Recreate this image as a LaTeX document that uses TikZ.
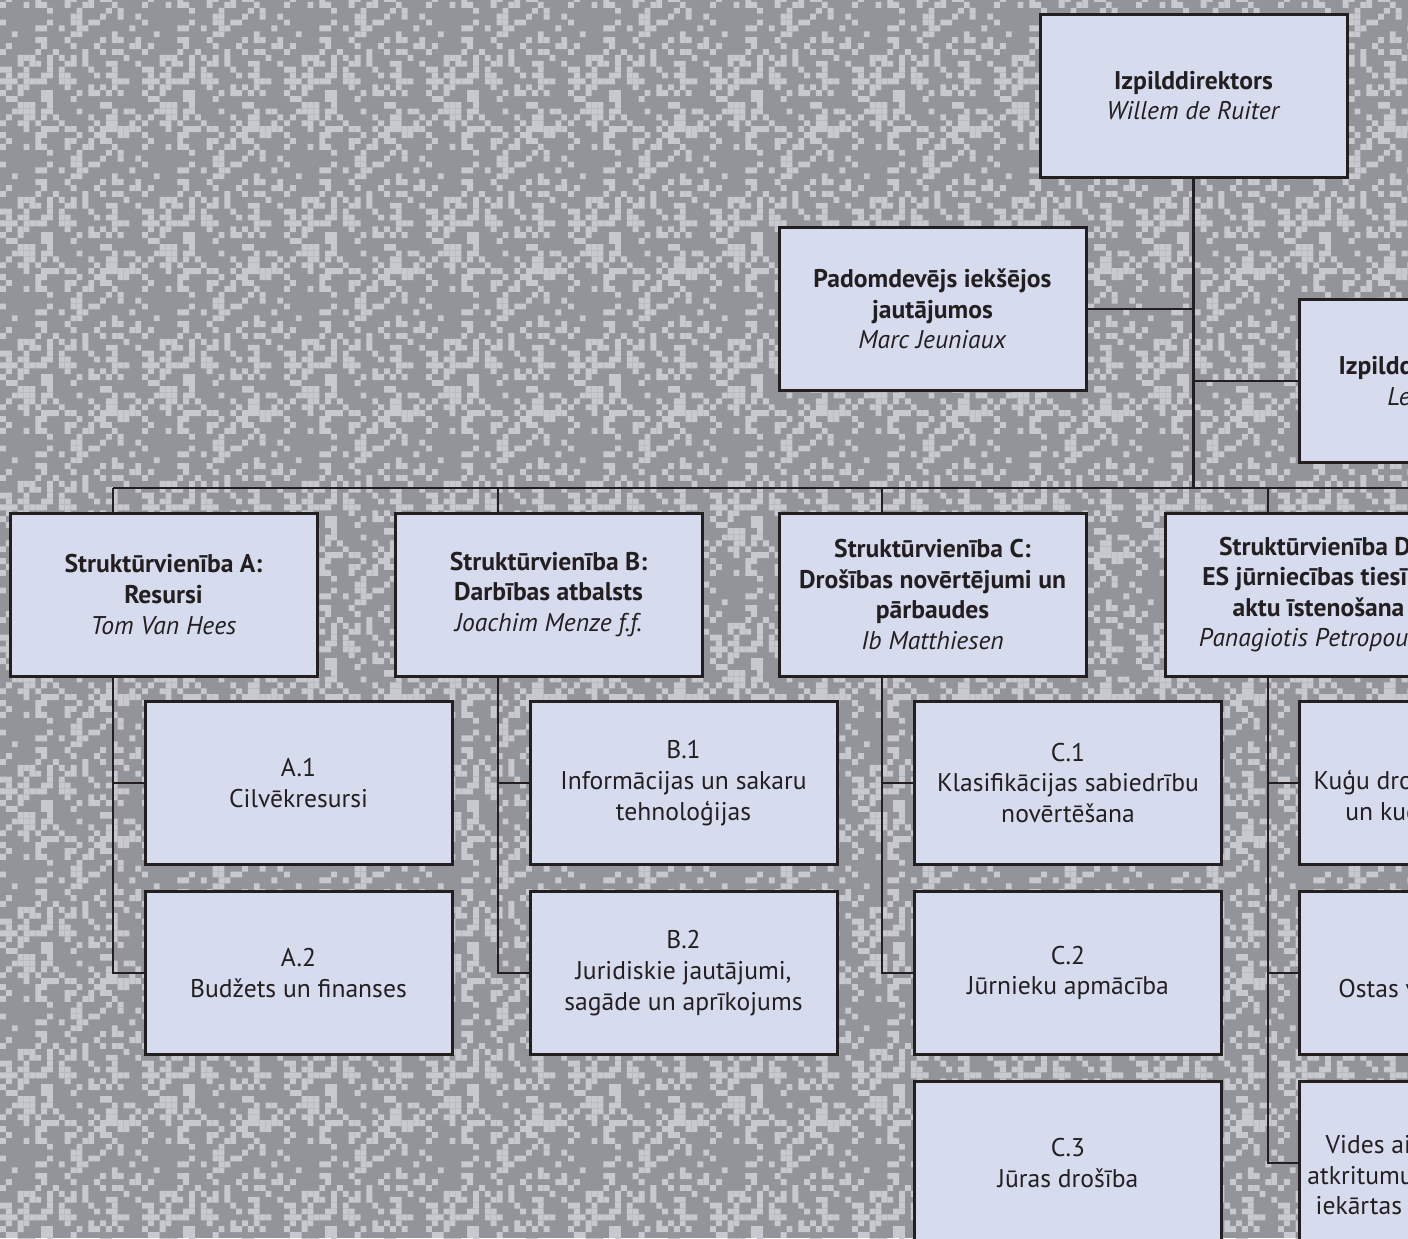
\documentclass[tikz,border=0pt]{standalone}
\usepackage{fontspec}
\setmainfont{PT Sans}
\usetikzlibrary{patterns}
\definecolor{bgdark}{RGB}{147,148,153}
\definecolor{bglight}{RGB}{200,201,206}
\definecolor{boxfill}{RGB}{214,219,238}
\definecolor{ink}{RGB}{35,31,32}
\newcommand\pxl[2]{\pgfpathrectangle{\pgfpoint{#1*2.95pt}{#2*2.95pt}}{\pgfpoint{2.95pt}{2.95pt}}}
\pgfmathsetseed{4711}
\pgfdeclarepatternformonly{pix}{\pgfpointorigin}{\pgfpoint{70.8pt}{70.8pt}}{\pgfpoint{70.8pt}{70.8pt}}{%
  \foreach \i in {0,...,23}{%
    \foreach \j in {0,...,23}{%
      \pgfmathparse{rnd<0.34 ? 1 : 0}%
      \ifdim\pgfmathresult pt>0.5pt \pxl{\i}{\j}\pgfusepath{fill}\fi
    }%
  }%
}
\tikzset{
  box/.style={draw=ink, line width=1.5pt, fill=boxfill, minimum width=153.5pt,
    minimum height=81.5pt, inner sep=0pt, align=center, text=ink,
    font=\fontsize{12.8}{15.3}\selectfont},
  conn/.style={draw=ink, line width=1.2pt}
}
\begin{document}
\begin{tikzpicture}[x=0.5pt,y=-0.5pt]
\useasboundingbox (0,0) rectangle (1408,1238);
\clip (0,0) rectangle (1408,1238);
\fill[bgdark] (0,0) rectangle (1408,1238);
\fill[pattern=pix, pattern color=bglight] (0,0) rectangle (1408,1238);

% top level
\node[box] (top) at (1193.5,95.5) {\textbf{Izpilddirektors}\\\textit{Willem de Ruiter}};
\node[box] (pad) at (932.5,309) {\textbf{Padomdevējs iekšējos}\\\textbf{jautājumos}\\\textit{Marc Jeuniaux}};
\node[box] (izd) at (1452.5,381) {\textbf{Izpilddirektora birojs}\\\textit{Leendert Bal}};

% departments
\node[box] (A) at (163.5,594.5) {\textbf{Struktūrvienība A:}\\\textbf{Resursi}\\\textit{Tom Van Hees}};
\node[box] (B) at (548.5,594.5) {\textbf{Struktūrvienība B:}\\\textbf{Darbības atbalsts}\\\textit{Joachim Menze f.f.}};
\node[box] (C) at (932.5,594.5) {\textbf{Struktūrvienība C:}\\\textbf{Drošības novērtējumi un}\\\textbf{pārbaudes}\\\textit{Ib Matthiesen}};
\node[box] (D) at (1318.5,594.5) {\textbf{Struktūrvienība D:}\\\textbf{ES jūrniecības tiesību}\\\textbf{aktu īstenošana}\\\textit{Panagiotis Petropoulos}};

% units
\node[box] (A1) at (298.5,783) {A.1\\Cilvēkresursi};
\node[box] (A2) at (298.5,973) {A.2\\Budžets un finanses};
\node[box] (B1) at (683.5,783) {B.1\\Informācijas un sakaru\\tehnoloģijas};
\node[box] (B2) at (683.5,973) {B.2\\Juridiskie jautājumi,\\sagāde un aprīkojums};
\node[box] (C1) at (1068,783) {C.1\\Klasifikācijas sabiedrību\\novērtēšana};
\node[box] (C2) at (1068,973) {C.2\\Jūrnieku apmācība};
\node[box] (C3) at (1068,1163) {C.3\\Jūras drošība};
\node[box] (D1) at (1452.5,783) {D.1\\Kuģu drošība, aizsardzība\\un kuģu inspekcijas};
\node[box] (D2) at (1452.5,973) {D.2\\Ostas valsts kontrole};
\node[box] (D3) at (1452.5,1163) {D.3\\Vides aizsardzība, kuģu\\atkritumu pieņemšanas un\\iekārtas un piesārņojums};

% connectors
\coordinate (busT) at (1193.5,488);
\coordinate (dA) at (113,488);
\coordinate (dB) at (498,488);
\coordinate (dC) at (882,488);
\coordinate (dD) at (1268,488);
\coordinate (busEnd) at (1420,488);

\draw[conn] (top.south) -- (busT);
\draw[conn] (pad.east) -- (pad.east -| top.south);
\draw[conn] (izd.west -| top.south) -- (izd.west);
\draw[conn] (dA) -- (busEnd);

\draw[conn] (dA) -- (dA |- A.north);
\draw[conn] (dB) -- (dB |- B.north);
\draw[conn] (dC) -- (dC |- C.north);
\draw[conn] (dD) -- (dD |- D.north);

\draw[conn] (dA |- A.south) -- (dA |- A2.west) -- (A2.west);
\draw[conn] (dA |- A1.west) -- (A1.west);
\draw[conn] (dB |- B.south) -- (dB |- B2.west) -- (B2.west);
\draw[conn] (dB |- B1.west) -- (B1.west);
\draw[conn] (dC |- C.south) -- (dC |- C2.west) -- (C2.west);
\draw[conn] (dC |- C1.west) -- (C1.west);
\draw[conn] (dD |- D.south) -- (dD |- D3.west) -- (D3.west);
\draw[conn] (dD |- D1.west) -- (D1.west);
\draw[conn] (dD |- D2.west) -- (D2.west);
\end{tikzpicture}
\end{document}
